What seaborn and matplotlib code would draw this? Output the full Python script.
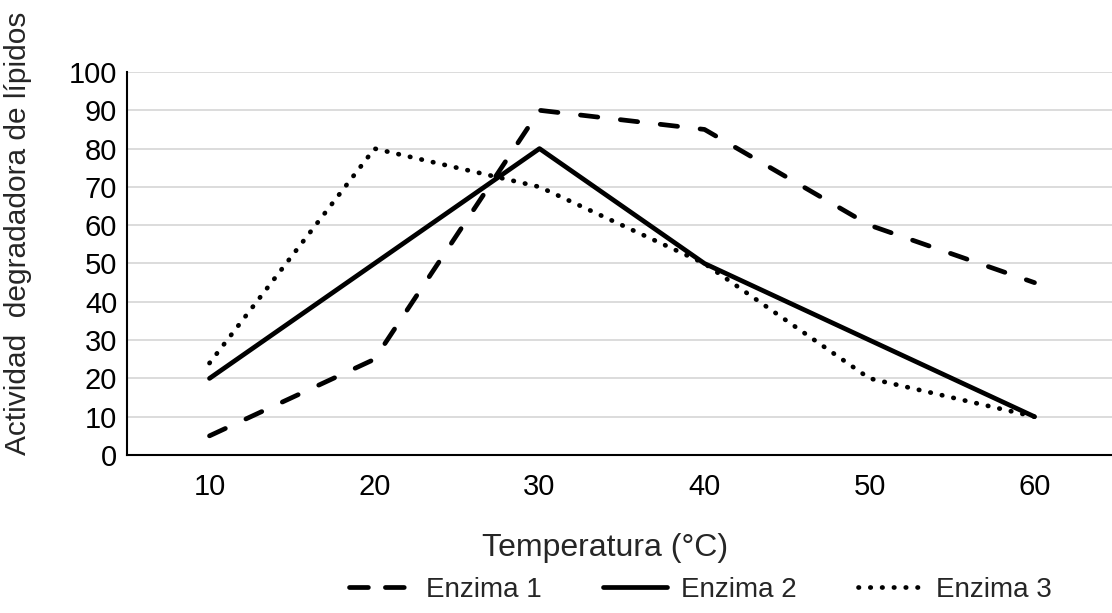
import numpy as np
import pandas as pd
import matplotlib.pyplot as plt
import seaborn as sns
from matplotlib.lines import Line2D

# Data
temperatura = ['10', '20', '30', '40', '50', '60']
enzima_1 = [5, 25, 90, 85, 60, 45]
enzima_2 = [20, 50, 80, 50, 30, 10]
enzima_3 = [24, 80, 70, 50, 20, 10]

sns.set_style("white")
plt.rcParams['font.family'] = ['Liberation Sans', 'DejaVu Sans']

fig = plt.figure(figsize=(11.12, 6.13), dpi=100)
W, H = 1112, 613
left, right, top, bottom = 127, 1117, 72, 455
ax = fig.add_axes([left / W, 1 - bottom / H, (right - left) / W, (bottom - top) / H])

pos = np.arange(len(temperatura))
styles = {
    'Enzima 1': dict(dashes=(3.7, 4.8), dash_capstyle='round'),
    'Enzima 2': dict(),
    'Enzima 3': dict(dashes=(0.1, 2.4), dash_capstyle='round'),
}
legend_styles = {
    'Enzima 1': dict(dashes=(4.0, 3.6), dash_capstyle='round'),
    'Enzima 2': dict(),
    'Enzima 3': dict(dashes=(0.1, 2.4), dash_capstyle='round'),
}
series = {'Enzima 1': enzima_1, 'Enzima 2': enzima_2, 'Enzima 3': enzima_3}

handles = []
for name, vals in series.items():
    df = pd.DataFrame({'x': pos, 'y': vals})
    sns.lineplot(data=df, x='x', y='y', ax=ax, color='black', linewidth=3.4,
                 solid_capstyle='round', **styles[name])
    handles.append(Line2D([0], [0], color='black', linewidth=3.4,
                          solid_capstyle='round', **legend_styles[name]))

ax.set_xlim(-0.5, len(temperatura) - 0.5)
ax.set_ylim(0, 100)
ax.set_yticks(range(0, 101, 10))
ax.set_xticks(pos)
ax.set_xticklabels(temperatura)
ax.yaxis.grid(True, color='#d9d9d9', linewidth=1.3)
ax.set_axisbelow(True)
for s in ['top', 'right']:
    ax.spines[s].set_visible(False)
for s in ['left', 'bottom']:
    ax.spines[s].set_color('black')
    ax.spines[s].set_linewidth(1.5)
ax.tick_params(axis='both', labelsize=21, length=0, colors='black')
ax.tick_params(axis='x', pad=13)
ax.tick_params(axis='y', pad=7)
ax.set_xlabel('')
ax.set_ylabel('')

fig.text(605 / W, 1 - 548 / H, 'Temperatura (°C)', fontsize=23,
         ha='center', va='center')
fig.text(18 / W, 1 - 233 / H, 'Actividad  degradadora de lípidos', fontsize=21.5,
         rotation=90, ha='center', va='center')

fig.legend(handles, list(series.keys()), loc='center',
           bbox_to_anchor=(700 / W, 1 - 590 / H), ncol=3, frameon=False,
           fontsize=20, handlelength=2.3, handletextpad=0.5, columnspacing=2.2)

fig.savefig('out.png', dpi=100)
